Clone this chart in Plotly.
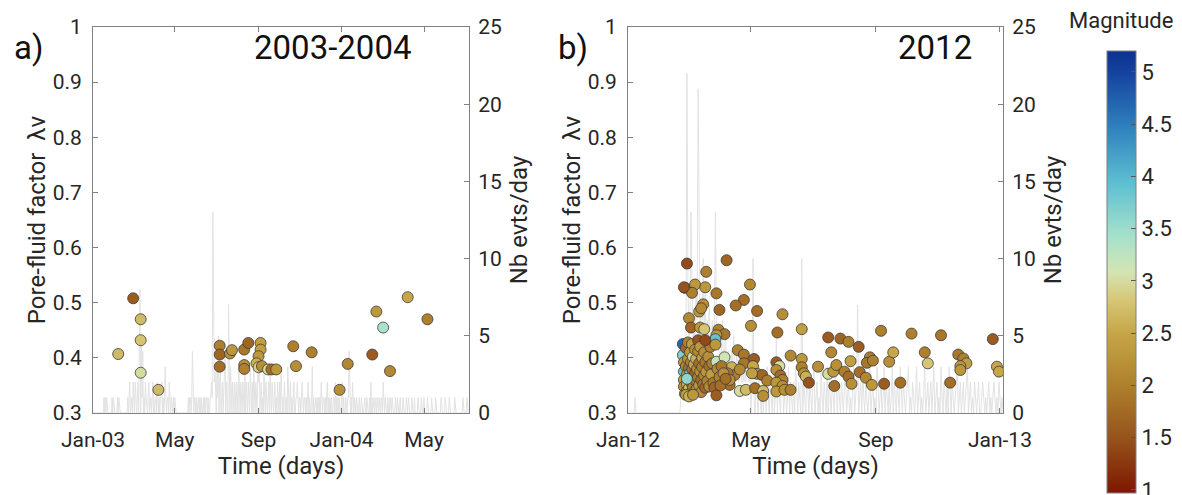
import plotly.graph_objects as go
import pandas as pd

W, H = 1182, 495

# ---------------- Panel a) 2003-2004 ----------------
a_start = "2003-01-01"
# daily number of events (one value per day from 2003-01-01)
a_counts = [
    0,0,0,0,0,0,0,0,0,0,0,0,0,0,0,0,1,0,1,0,1,0,0,0,0,0,0,0,1,0,
    1,0,0,0,0,0,1,0,1,0,0,0,0,0,0,0,0,0,0,0,0,1,0,1,2,0,1,1,0,2,
    1,0,2,1,0,1,2,0,3,8,0,5,1,4,0,1,0,2,1,0,0,1,2,0,1,1,0,1,2,0,
    0,1,1,0,2,1,0,1,0,1,1,2,0,1,0,1,3,1,0,1,1,0,2,1,0,1,0,0,1,0,
    1,0,0,0,0,0,0,0,0,0,0,0,0,0,0,0,0,0,0,0,1,0,1,1,0,1,4,1,0,1,
    1,0,1,0,1,1,0,1,0,1,0,0,1,0,1,0,1,1,0,1,0,0,1,1,2,1,13,6,2,3,
    2,0,3,1,5,0,2,3,0,1,2,0,1,3,4,0,2,1,0,7,2,0,3,1,0,2,1,0,2,1,
    0,2,1,0,3,1,0,2,1,0,2,1,0,3,0,2,1,0,2,1,0,3,1,0,2,0,3,1,0,2,
    1,0,3,2,5,0,1,2,0,1,0,3,1,0,2,1,0,1,2,0,3,1,0,2,1,0,1,2,0,1,
    0,2,1,0,2,0,3,1,0,1,0,2,1,0,1,0,3,1,0,1,2,0,1,0,1,2,0,0,1,1,
    2,1,0,1,1,0,1,2,1,0,1,1,0,1,0,1,2,0,1,0,0,1,3,0,1,0,1,1,0,1,
    0,1,0,1,0,2,1,0,1,1,0,1,0,1,2,0,1,0,1,0,1,0,0,1,1,0,2,0,1,0,
    1,0,1,0,0,1,2,0,1,0,0,1,0,0,1,1,4,0,0,1,0,2,0,0,1,0,0,1,0,0,
    0,1,0,0,1,0,0,0,1,1,0,0,1,0,0,0,1,0,2,0,0,1,0,0,1,0,0,1,0,0,
    1,0,0,1,0,0,2,0,0,1,0,0,0,1,0,0,1,0,0,1,0,0,0,0,1,0,0,1,0,0,
    0,1,0,0,0,1,0,0,0,0,1,0,0,1,0,0,0,0,1,0,0,0,1,0,0,0,0,1,0,0,
    0,0,1,0,0,0,1,0,0,0,0,1,0,0,0,0,0,1,0,0,0,0,0,1,0,0,0,0,0,0,
    0,1,0,0,0,0,0,1,0,0,0,0,0,1,0,0,0,0,0,0,0,1,0,0,0,0,0,0,0,0,
    0,0,0,1,0,0,0,0,0,1,0,0,0,1,0,
]
# events: day offset from a_start, pore-fluid factor, magnitude
a_days = [37, 59, 70, 70, 70, 96, 186, 186, 186, 201, 204, 222, 228, 222, 222,
          246, 246, 243, 240, 243, 248, 257, 262, 269, 294, 298, 321, 362, 374,
          410, 416, 426, 436, 462, 491]
a_lam = [0.407, 0.508, 0.470, 0.432, 0.373, 0.342, 0.422, 0.406, 0.384, 0.408,
         0.414, 0.415, 0.427, 0.387, 0.380, 0.427, 0.415, 0.403, 0.390, 0.383,
         0.385, 0.379, 0.379, 0.379, 0.421, 0.385, 0.410, 0.342, 0.389, 0.406,
         0.484, 0.455, 0.376, 0.510, 0.470]
a_mag = [2.7, 1.6, 2.7, 2.8, 3.0, 2.7, 2.0, 1.7, 1.8, 2.2, 2.3, 1.9, 1.7, 2.2,
         2.0, 2.4, 2.4, 2.3, 2.6, 2.9, 2.2, 3.0, 1.8, 2.3, 2.0, 2.2, 2.0, 2.2,
         2.1, 1.6, 2.3, 3.4, 2.1, 2.5, 2.0]
a_tickvals = ["2003-01-01", "2003-05-01", "2003-09-01", "2004-01-01", "2004-05-01"]
a_ticktext = ["Jan-03", "May", "Sep", "Jan-04", "May"]
a_range = ["2003-01-01", "2004-07-06"]

# ---------------- Panel b) 2012 ----------------
b_start = "2012-01-01"
b_counts = [
    0,0,0,0,0,0,0,1,0,0,0,0,0,0,0,0,0,0,0,0,0,0,0,0,0,0,0,0,0,0,
    0,0,0,0,0,0,0,0,0,0,0,0,0,0,0,0,0,0,0,0,0,0,1,2,1,3,2,4,22,8,
    5,6,13,7,4,6,5,8,6,21,9,5,7,6,10,5,8,4,6,5,7,4,5,6,4,5,13,6,5,4,
    5,3,4,6,3,4,5,3,2,4,3,2,4,3,5,3,2,4,3,2,3,4,2,3,2,3,2,4,3,2,
    3,0,2,10,1,0,2,1,0,3,1,0,2,0,1,2,0,3,1,0,2,1,0,3,0,1,5,0,2,1,
    0,2,3,0,1,2,0,1,3,0,2,1,0,2,0,3,1,0,2,1,0,10,0,2,1,0,3,1,0,2,
    1,0,2,3,0,1,2,0,1,0,3,1,0,2,1,0,3,0,2,1,0,2,1,0,3,1,0,2,1,0,
    2,1,0,2,3,0,1,2,0,1,0,2,3,0,1,2,7,0,1,2,0,3,1,0,2,1,0,1,3,0,
    1,2,0,1,0,3,2,0,1,2,0,1,3,0,2,1,0,2,0,1,3,0,2,1,0,2,1,0,3,1,
    0,2,1,0,1,2,3,0,1,0,2,1,0,1,3,0,1,2,0,1,0,2,3,0,1,2,0,1,2,0,
    2,3,0,1,2,0,1,0,3,1,0,2,1,0,2,0,3,1,0,2,1,0,1,2,3,0,1,2,0,1,
    2,0,1,2,3,0,1,2,0,1,0,2,1,0,1,2,0,0,1,2,1,0,1,0,1,2,0,1,0,1,
    2,1,0,1,0,2,1,0,1,0,0,
]
b_days = [
    58, 97, 77, 56, 66, 76, 63, 87, 120, 114, 106, 74, 70, 90, 127, 152, 60, 62,
    71, 75, 121, 171, 147, 89, 95, 87, 249, 279, 308, 359, 197, 209, 217, 227,
    55, 72,
    108, 114, 124, 114, 102, 123, 127, 132, 137, 100, 110, 116, 125, 133, 133,
    146, 149, 146, 150, 152, 146, 152, 146, 154, 160, 160, 171, 171, 173, 175,
    178, 187, 197, 200, 202, 205, 203, 213, 217, 219, 220, 228, 234, 238, 235,
    241, 240, 252, 257, 261, 268, 292, 295, 317, 325, 330, 333, 327, 327, 363,
    365, 105, 110, 122, 98, 100,
    54, 54, 55, 55, 55, 55, 56, 57, 57, 58, 58, 58, 59, 59, 60, 60, 60, 61, 61,
    62, 62, 62, 63, 63, 64, 64, 64, 65, 66, 66, 66, 67, 67, 68, 68, 69, 69, 69,
    70, 70, 71, 71, 72, 72, 73, 73, 74, 75, 75, 76, 76, 77, 86, 78, 79, 80, 80,
    81, 82, 83, 84, 85, 86, 87, 87, 88, 95, 90, 91, 92, 94, 96, 76, 58, 57, 60,
    64,
]
b_lam = [
    0.571, 0.577, 0.556, 0.527, 0.533, 0.528, 0.518, 0.517, 0.533, 0.505, 0.495,
    0.497, 0.484, 0.487, 0.485, 0.479, 0.472, 0.455, 0.455, 0.452, 0.458, 0.452,
    0.446, 0.451, 0.443, 0.441, 0.449, 0.444, 0.441, 0.434, 0.437, 0.435, 0.429,
    0.420, 0.528, 0.490,
    0.414, 0.406, 0.398, 0.390, 0.383, 0.385, 0.371, 0.369, 0.359, 0.351, 0.340,
    0.342, 0.345, 0.340, 0.331, 0.392, 0.385, 0.378, 0.368, 0.360, 0.355, 0.349,
    0.339, 0.342, 0.342, 0.404, 0.398, 0.383, 0.372, 0.366, 0.355, 0.384, 0.371,
    0.410, 0.375, 0.387, 0.349, 0.375, 0.366, 0.394, 0.353, 0.374, 0.364, 0.401,
    0.391, 0.395, 0.351, 0.353, 0.393, 0.410, 0.355, 0.410, 0.390, 0.355, 0.406,
    0.399, 0.390, 0.385, 0.378, 0.384, 0.375, 0.369, 0.379, 0.372, 0.372, 0.360,
    0.425, 0.405, 0.392, 0.375, 0.360, 0.348, 0.335, 0.418, 0.385, 0.370, 0.352,
    0.340, 0.428, 0.398, 0.382, 0.362, 0.345, 0.410, 0.372, 0.392, 0.355, 0.336,
    0.425, 0.380, 0.402, 0.365, 0.347, 0.388, 0.415, 0.372, 0.340, 0.398, 0.357,
    0.380, 0.345, 0.432, 0.412, 0.365, 0.390, 0.350, 0.420, 0.375, 0.360, 0.338,
    0.400, 0.383, 0.352, 0.410, 0.368, 0.392, 0.346, 0.375, 0.434, 0.358, 0.402,
    0.385, 0.348, 0.420, 0.370, 0.390, 0.355, 0.346, 0.424, 0.393, 0.332, 0.380,
    0.401, 0.365, 0.350, 0.385, 0.372, 0.362, 0.432, 0.362, 0.333, 0.330, 0.333,
]
b_mag = [
    1.4, 1.7, 2.0, 1.6, 2.3, 2.3, 2.0, 1.9, 2.1, 1.8, 1.8, 2.2, 2.3, 1.7, 1.8,
    2.2, 2.1, 1.7, 2.3, 2.8, 2.2, 2.4, 1.8, 2.0, 1.9, 2.3, 2.0, 2.0, 1.9, 1.6,
    1.6, 1.7, 2.0, 1.6, 1.5, 2.1,
    2.0, 1.9, 1.6, 1.9, 2.6, 2.5, 2.3, 1.7, 2.0, 1.8, 3.0, 2.7, 1.8, 2.7, 2.2,
    1.6, 3.0, 2.2, 1.8, 2.0, 2.3, 2.2, 2.3, 2.2, 2.0, 2.1, 2.3, 2.0, 2.2, 2.6,
    1.5, 2.2, 3.0, 2.1, 2.3, 2.2, 1.8, 2.0, 1.8, 2.4, 2.2, 1.8, 2.1, 2.0, 1.9,
    2.0, 2.3, 1.6, 2.2, 2.5, 1.8, 2.0, 2.8, 1.8, 1.9, 2.0, 2.4, 2.3, 2.3, 2.5,
    2.5, 2.0, 2.1, 2.4, 1.9, 2.2,
    4.7, 3.7, 2.3, 3.9, 2.4, 2.2, 2.5, 1.7, 2.1, 2.3, 2.6, 2.2, 2.0, 2.2, 1.9,
    2.4, 2.7, 2.3, 3.8, 2.0, 2.1, 2.6, 2.4, 1.8, 3.0, 2.2, 2.0, 2.5, 2.2, 1.7,
    2.3, 2.6, 1.9, 2.2, 2.4, 1.5, 2.1, 2.0, 1.8, 2.3, 2.3, 2.2, 1.8, 2.1, 2.4,
    2.0, 1.9, 2.2, 2.1, 1.9, 1.7, 2.3, 3.9, 2.0, 2.2, 1.8, 2.1, 2.0, 2.4, 2.0,
    1.9, 1.7, 2.3, 3.2, 1.6, 2.1, 3.1, 2.0, 1.8, 1.9, 2.2, 1.8, 1.4, 3.6, 2.4,
    2.6, 2.3,
]
b_tickvals = ["2012-01-01", "2012-05-01", "2012-09-01", "2013-01-01"]
b_ticktext = ["Jan-12", "May", "Sep", "Jan-13"]
b_range = ["2012-01-01", "2013-01-04"]

lam_ticks = [0.3, 0.4, 0.5, 0.6, 0.7, 0.8, 0.9, 1.0]
lam_ticktext = ["0.3", "0.4", "0.5", "0.6", "0.7", "0.8", "0.9", "1"]
cnt_ticks = [0, 5, 10, 15, 20, 25]
mag_ticks = [1, 1.5, 2, 2.5, 3, 3.5, 4, 4.5, 5]
mag_ticktext = ["1", "1.5", "2", "2.5", "3", "3.5", "4", "4.5", "5"]

# roma-like diverging colormap
roma = [
    [0.00, "#7E1700"], [0.12, "#96511C"], [0.24, "#AD7F2C"], [0.36, "#C6A546"],
    [0.44, "#D6C878"], [0.50, "#D3E5B3"], [0.58, "#A6E1CB"], [0.70, "#5EC0D2"],
    [0.83, "#2E80BD"], [0.95, "#15439F"], [1.00, "#0C3192"],
]


def dates_from(start, offsets):
    return pd.Timestamp(start) + pd.to_timedelta(offsets, unit="D")


def px(x):
    return x / W


def py(y):
    return 1 - y / H


FONT = "Roboto, Arial, sans-serif"
TXT = "#262626"
AX = "#808080"

fig = go.Figure()

# count lines (base axes, drawn below)
fig.add_trace(go.Scatter(
    x=dates_from(a_start, list(range(len(a_counts)))), y=a_counts,
    mode="lines", line=dict(color="#e2e2e2", width=1),
    xaxis="x", yaxis="y", showlegend=False, hoverinfo="skip"))
fig.add_trace(go.Scatter(
    x=dates_from(b_start, list(range(len(b_counts)))), y=b_counts,
    mode="lines", line=dict(color="#e2e2e2", width=1),
    xaxis="x2", yaxis="y3", showlegend=False, hoverinfo="skip"))

marker_common = dict(size=11, coloraxis="coloraxis",
                     line=dict(color="#3a3a3a", width=0.8), opacity=1)
fig.add_trace(go.Scatter(
    x=dates_from(a_start, a_days), y=a_lam, mode="markers",
    marker=dict(color=a_mag, **marker_common),
    xaxis="x", yaxis="y2", showlegend=False))
fig.add_trace(go.Scatter(
    x=dates_from(b_start, b_days), y=b_lam, mode="markers",
    marker=dict(color=b_mag, **marker_common),
    xaxis="x2", yaxis="y4", showlegend=False))

tickfont = dict(family=FONT, size=21, color=TXT)
titlefont = dict(family=FONT, size=24, color=TXT)

ydom = [py(413), py(27)]


def xaxis(dom, rng, tv, tt):
    return dict(domain=dom, type="date", range=rng, tickvals=tv, ticktext=tt,
                showline=True, linecolor=AX, linewidth=1, mirror="ticks",
                ticks="inside", ticklen=5, tickcolor=AX, showgrid=False,
                zeroline=False, tickfont=tickfont, ticklabelstandoff=8,
                automargin=False,
                title=dict(text="Time (days)", font=titlefont, standoff=4))


def cnt_axis(anchor):
    return dict(domain=ydom, range=[0, 25], tickvals=cnt_ticks, side="right",
                anchor=anchor, showline=True, linecolor=AX, linewidth=1,
                ticks="inside", ticklen=5, tickcolor=AX, showgrid=False,
                zeroline=False, tickfont=tickfont, ticklabelstandoff=4,
                automargin=False,
                title=dict(text="Nb evts/day", font=titlefont, standoff=9))


def lam_axis(anchor, over):
    return dict(domain=ydom, range=[0.3, 1.0], tickvals=lam_ticks,
                ticktext=lam_ticktext, side="left", anchor=anchor,
                overlaying=over, showline=True, linecolor=AX, linewidth=1,
                ticks="inside", ticklen=5, tickcolor=AX, showgrid=False,
                zeroline=False, tickfont=tickfont, ticklabelstandoff=6,
                automargin=False,
                title=dict(text="Pore-fluid factor  λv", font=titlefont,
                           standoff=0))


def note(text, x, y, size, color="#111"):
    return dict(text=text, x=px(x), y=py(y), xref="paper", yref="paper",
                xanchor="center", yanchor="middle", showarrow=False,
                font=dict(family=FONT, size=size, color=color))


fig.update_layout(
    width=W, height=H,
    margin=dict(l=0, r=0, t=0, b=0, autoexpand=False),
    paper_bgcolor="white", plot_bgcolor="rgba(0,0,0,0)",
    font=dict(family=FONT, color=TXT),
    xaxis=xaxis([px(93), px(469)], a_range, a_tickvals, a_ticktext) | dict(anchor="y"),
    yaxis=cnt_axis("x"),
    yaxis2=lam_axis("x", "y"),
    xaxis2=xaxis([px(628), px(1003)], b_range, b_tickvals, b_ticktext) | dict(anchor="y3"),
    yaxis3=cnt_axis("x2"),
    yaxis4=lam_axis("x2", "y3"),
    coloraxis=dict(
        colorscale=roma, cmin=0.97, cmax=5.2,
        colorbar=dict(
            x=px(1107), xanchor="left", xpad=0, y=py(51), yanchor="top", ypad=0,
            len=442, lenmode="pixels", thickness=29, thicknessmode="pixels",
            outlinecolor=AX, outlinewidth=1, ticks="inside", ticklen=5,
            tickcolor="#555", tickvals=mag_ticks, ticktext=mag_ticktext,
            ticklabeloverflow="allow",
            tickfont=dict(family=FONT, size=22, color=TXT),
        ),
    ),
    annotations=[
        note("a)", 28, 48, 33),
        note("b)", 573, 48, 33),
        note("2003-2004", 333, 48, 33),
        note("2012", 935, 48, 33),
        note("Magnitude", 1121, 20, 22, TXT),
    ],
)

fig.write_html("out.html",
               config={"displayModeBar": False},
               post_script="document.body.style.margin='0';"
                           "document.body.style.overflow='hidden';")
